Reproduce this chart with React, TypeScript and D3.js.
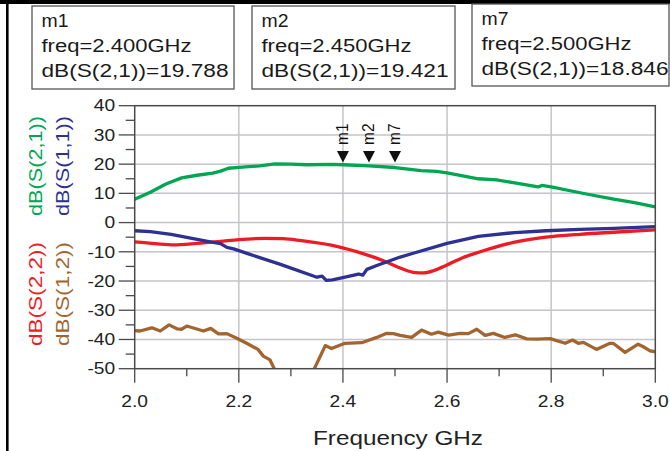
import React from "react";
import * as d3 from "d3";

// ---------- data ----------
const s21Freq = [2.0, 2.03, 2.06, 2.09, 2.12, 2.15, 2.165, 2.18, 2.2, 2.24, 2.27, 2.3, 2.33, 2.38, 2.4, 2.45, 2.5, 2.55, 2.58, 2.6, 2.63, 2.66, 2.695, 2.73, 2.775, 2.782, 2.8, 2.87, 2.92, 2.96, 3.0];
const s21dB = [8.0, 10.4, 13.2, 15.3, 16.2, 16.9, 17.6, 18.6, 18.9, 19.4, 20.1, 20.0, 19.8, 19.9, 19.788, 19.421, 18.846, 17.8, 17.5, 17.0, 16.0, 15.0, 14.6, 13.6, 12.2, 12.7, 12.2, 9.7, 8.0, 6.8, 5.4];

const s11Freq = [2.0, 2.03, 2.07, 2.11, 2.14, 2.165, 2.177, 2.19, 2.22, 2.28, 2.35, 2.36, 2.368, 2.38, 2.43, 2.438, 2.446, 2.465, 2.51, 2.535, 2.6, 2.66, 2.73, 2.79, 2.855, 2.92, 3.0];
const s11dB = [-2.8, -3.1, -4.0, -5.4, -6.4, -7.2, -8.5, -9.0, -10.8, -14.3, -18.7, -18.3, -19.8, -19.6, -17.6, -18.0, -16.0, -14.7, -11.8, -10.5, -7.1, -4.7, -3.4, -2.8, -2.3, -2.0, -1.4];

const s22Freq = [2.0, 2.04, 2.075, 2.12, 2.165, 2.2, 2.25, 2.285, 2.32, 2.39, 2.44, 2.48, 2.505, 2.535, 2.555, 2.575, 2.6, 2.63, 2.665, 2.73, 2.79, 2.855, 2.92, 3.0];
const s22dB = [-6.6, -7.2, -7.6, -7.1, -6.4, -5.8, -5.4, -5.5, -6.2, -8.2, -10.7, -13.2, -15.2, -17.0, -17.2, -16.4, -14.5, -12.0, -9.9, -6.7, -5.0, -4.0, -3.3, -2.5];

const s12Freq = [2.0, 2.01, 2.033, 2.049, 2.066, 2.082, 2.09, 2.1, 2.132, 2.146, 2.161, 2.177, 2.196, 2.215, 2.237, 2.247, 2.26, 2.268, 2.285, 2.31, 2.335, 2.345, 2.356, 2.366, 2.378, 2.404, 2.436, 2.465, 2.484, 2.497, 2.51, 2.532, 2.551, 2.57, 2.583, 2.603, 2.625, 2.641, 2.657, 2.673, 2.689, 2.711, 2.731, 2.753, 2.772, 2.798, 2.827, 2.841, 2.852, 2.862, 2.887, 2.913, 2.919, 2.942, 2.967, 2.977, 2.99, 3.0];
const s12dB = [-37.0, -37.1, -36.0, -37.1, -35.0, -36.4, -36.5, -35.4, -37.1, -36.2, -38.1, -38.0, -39.6, -41.3, -43.4, -45.7, -47.0, -50.0, -55, -58, -55, -50.0, -45.9, -42.1, -43.1, -41.3, -41.1, -39.3, -37.9, -38.0, -38.6, -39.3, -36.8, -38.2, -37.5, -38.5, -37.9, -38.0, -36.5, -38.6, -37.9, -39.3, -38.4, -39.8, -39.9, -39.7, -41.3, -40.2, -41.3, -41.0, -43.4, -41.3, -41.3, -44.4, -41.6, -42.5, -43.9, -44.2];

const markerNames = ["m1", "m2", "m7"];
const markerFreqs = [2.4, 2.45, 2.5];
const markerFreqText = ["2.400", "2.450", "2.500"];
const markerValues = ["19.788", "19.421", "18.846"];

const xTicks = [2.0, 2.2, 2.4, 2.6, 2.8, 3.0];
const xMinorTicks = [2.1, 2.3, 2.5, 2.7, 2.9];
const yTicks = [40, 30, 20, 10, 0, -10, -20, -30, -40, -50];
const yMinorTicks = [35, 25, 15, 5, -5, -15, -25, -35, -45];

// ---------- layout ----------
const W = 670, H = 451;
const L = 134.7, R = 655.3, T = 105.7, B = 368.7;
const FONT = "'Liberation Sans', Arial, sans-serif";

const COLORS = {
  s21: "#00a651",
  s11: "#2e3192",
  s22: "#ed1c24",
  s12: "#a3652f",
};

const x = d3.scaleLinear().domain([2.0, 3.0]).range([L, R]);
const y = d3.scaleLinear().domain([-50, 40]).range([B, T]);

const mkLine = (fx: number[], vy: number[], curve: any) =>
  d3.line<number>().x((_, i) => x(fx[i])).y((v) => y(v)).curve(curve)(vy) || "";

const boxes = [
  { x: 32, y: 6, w: 202, h: 83 },
  { x: 252, y: 6, w: 203, h: 83 },
  { x: 472, y: 4, w: 197, h: 82 },
];

export default function App() {
  const gridColor = "#c4c4ca";
  const axisColor = "#4a4a4a";
  return (
    <svg width={W} height={H} style={{ position: "absolute", left: 0, top: 0, background: "#fff" }} fontFamily={FONT}>
      <defs>
        <clipPath id="plotClip">
          <rect x={L} y={T} width={R - L} height={B - T} />
        </clipPath>
      </defs>
      <rect x={0} y={0} width={W} height={H} fill="#fff" />
      {/* black frame */}
      <rect x={0} y={0} width={W} height={4} fill="#000" />
      <rect x={6} y={0} width={2.6} height={H} fill="#000" />

      {/* marker boxes */}
      {boxes.map((b, i) => (
        <g key={"box" + i}>
          <rect x={b.x} y={b.y} width={b.w} height={b.h} fill="#fff" stroke="#555" strokeWidth={1.3} />
          <text x={b.x + 9.5} y={b.y + 20.5} fontSize={18} fill="#1a1a1a" textLength={27} lengthAdjust="spacingAndGlyphs">{markerNames[i]}</text>
          <text x={b.x + 9.5} y={b.y + 46} fontSize={18} fill="#1a1a1a" textLength={150} lengthAdjust="spacingAndGlyphs">{`freq=${markerFreqText[i]}GHz`}</text>
          <text x={b.x + 9.5} y={b.y + 70.5} fontSize={18} fill="#1a1a1a" textLength={187} lengthAdjust="spacingAndGlyphs">{`dB(S(2,1))=${markerValues[i]}`}</text>
        </g>
      ))}

      {/* grid */}
      {xTicks.slice(1, -1).map((t) => (
        <line key={"gx" + t} x1={x(t)} x2={x(t)} y1={T} y2={B} stroke={gridColor} strokeWidth={1.5} />
      ))}
      {yTicks.slice(1, -1).map((t) => (
        <line key={"gy" + t} x1={L} x2={R} y1={y(t)} y2={y(t)} stroke={gridColor} strokeWidth={1.5} />
      ))}

      {/* traces */}
      <g clipPath="url(#plotClip)" fill="none" strokeWidth={3.3} strokeLinejoin="round" strokeLinecap="round">
        <path d={mkLine(s12Freq, s12dB, d3.curveLinear)} stroke={COLORS.s12} />
        <path d={mkLine(s22Freq, s22dB, d3.curveMonotoneX)} stroke={COLORS.s22} />
        <path d={mkLine(s11Freq, s11dB, d3.curveLinear)} stroke={COLORS.s11} />
        <path d={mkLine(s21Freq, s21dB, d3.curveLinear)} stroke={COLORS.s21} />
      </g>

      {/* plot frame */}
      <rect x={L} y={T} width={R - L} height={B - T} fill="none" stroke={axisColor} strokeWidth={1.5} />

      {/* y ticks */}
      {yTicks.map((t) => (
        <g key={"yt" + t}>
          <line x1={L - 16} x2={L} y1={y(t)} y2={y(t)} stroke={axisColor} strokeWidth={1.3} />
          <g transform={`translate(${L - 19.5},${y(t)}) scale(1.2,1)`}>
            <text textAnchor="end" dy="0.36em" fontSize={16} fill="#222">{t}</text>
          </g>
        </g>
      ))}
      {yMinorTicks.map((t) => (
        <line key={"ym" + t} x1={L - 9} x2={L} y1={y(t)} y2={y(t)} stroke={axisColor} strokeWidth={1.3} />
      ))}

      {/* x ticks */}
      {xTicks.map((t) => (
        <g key={"xt" + t}>
          <line x1={x(t)} x2={x(t)} y1={B} y2={B + 14} stroke={axisColor} strokeWidth={1.3} />
          <g transform={`translate(${x(t)},407) scale(1.2,1)`}>
            <text textAnchor="middle" fontSize={16} fill="#222">{t.toFixed(1)}</text>
          </g>
        </g>
      ))}
      {xMinorTicks.map((t) => (
        <line key={"xm" + t} x1={x(t)} x2={x(t)} y1={B} y2={B + 7.5} stroke={axisColor} strokeWidth={1.3} />
      ))}

      {/* x title */}
      <text x={398} y={445} textAnchor="middle" fontSize={20} fill="#222" textLength={170} lengthAdjust="spacingAndGlyphs">Frequency GHz</text>

      {/* y titles */}
      <text transform={`translate(42,166) rotate(-90)`} textAnchor="middle" fontSize={18} fill={COLORS.s21} textLength={100} lengthAdjust="spacingAndGlyphs">dB(S(2,1))</text>
      <text transform={`translate(68.5,166) rotate(-90)`} textAnchor="middle" fontSize={18} fill={COLORS.s11} textLength={100} lengthAdjust="spacingAndGlyphs">dB(S(1,1))</text>
      <text transform={`translate(42,294) rotate(-90)`} textAnchor="middle" fontSize={18} fill={COLORS.s22} textLength={104} lengthAdjust="spacingAndGlyphs">dB(S(2,2))</text>
      <text transform={`translate(68.5,294) rotate(-90)`} textAnchor="middle" fontSize={18} fill={COLORS.s12} textLength={104} lengthAdjust="spacingAndGlyphs">dB(S(1,2))</text>

      {/* markers */}
      {markerFreqs.map((f, i) => {
        const cx = x(f);
        const tip = 162.5;
        return (
          <g key={"mk" + i}>
            <path d={`M${cx - 6},${tip - 11.5}L${cx + 6},${tip - 11.5}L${cx},${tip}Z`} fill="#111" />
            <text transform={`translate(${cx + 5},145) rotate(-90)`} fontSize={17} fill="#111" textLength={21.5} lengthAdjust="spacingAndGlyphs">{markerNames[i]}</text>
          </g>
        );
      })}
    </svg>
  );
}
